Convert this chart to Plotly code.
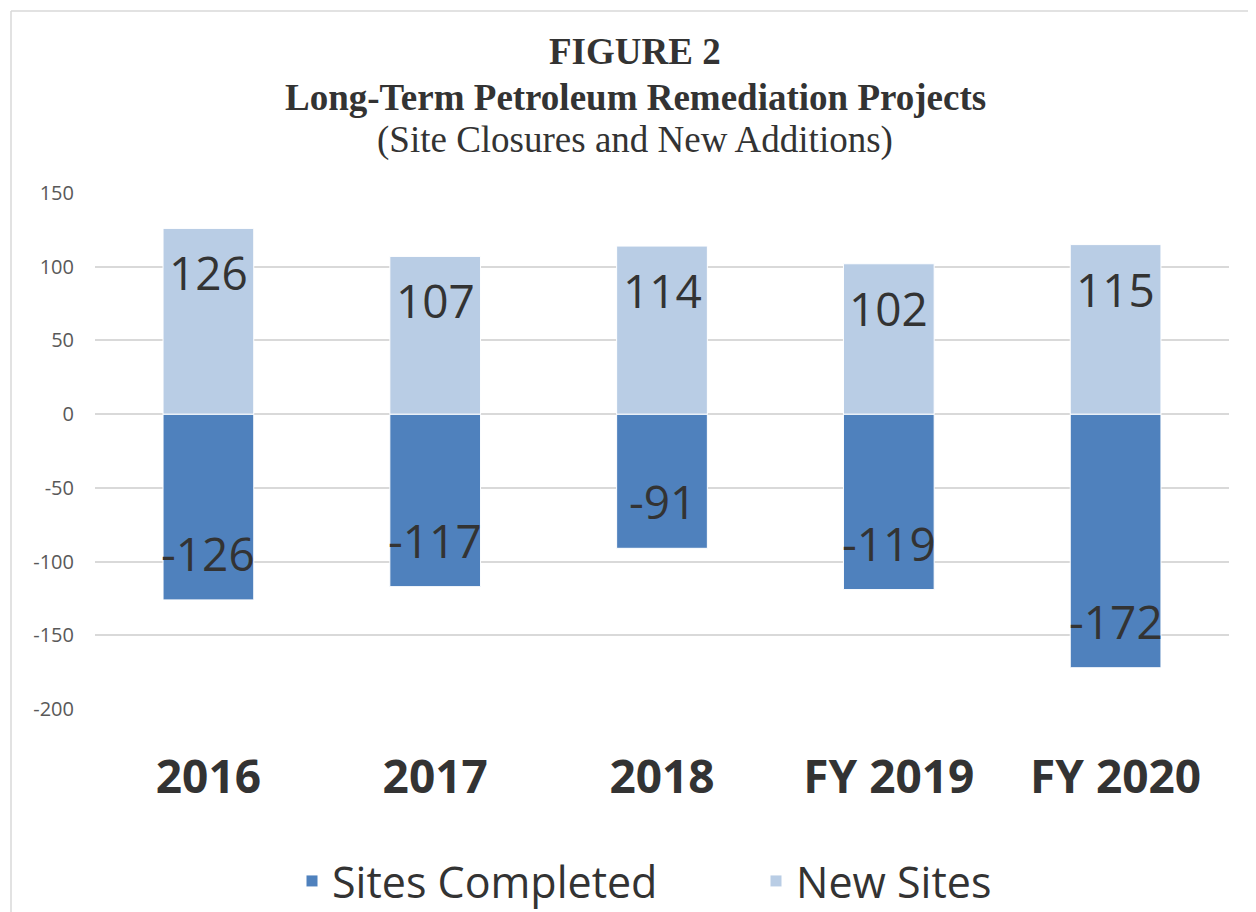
import plotly.graph_objects as go

years = ["2016", "2017", "2018", "FY 2019", "FY 2020"]
sites_completed = [-126, -117, -91, -119, -172]
new_sites = [126, 107, 114, 102, 115]
y_ticks = [150, 100, 50, 0, -50, -100, -150, -200]

title_lines = ["<b>FIGURE 2</b>",
               "<b>Long-Term Petroleum Remediation Projects</b>",
               "(Site Closures and New Additions)"]

dark_blue = "#4f81bd"
light_blue = "#b9cde5"
text_col = "#333333"

# page body has an 8px margin; figure is made taller than the window so the
# legend fits without pushing the margins (the bottom is simply cut off, as in the original)
W, H = 1240, 960
L, R, T, B = 87, 19, 185, 259
plot_w, plot_h = W - L - R, H - T - B


def px_x(x):
    return (x - L) / plot_w


def px_y(y):
    return 1 + (T - y) / plot_h


fig = go.Figure()
fig.add_trace(go.Bar(x=years, y=sites_completed, name="Sites Completed",
                     marker=dict(color=dark_blue, line=dict(color="white", width=1))))
fig.add_trace(go.Bar(x=years, y=new_sites, name="New Sites",
                     marker=dict(color=light_blue, line=dict(color="white", width=1))))

# value labels just inside the end of each bar, like the Excel original.
# category index is used for x: year-like strings would otherwise be read as numbers
for i, v in enumerate(sites_completed):
    fig.add_annotation(x=i, y=v, text=str(v), showarrow=False, yshift=47,
                       font=dict(family="Open Sans", size=46, color=text_col))
for i, v in enumerate(new_sites):
    fig.add_annotation(x=i, y=v, text=str(v), showarrow=False, yshift=-44,
                       font=dict(family="Open Sans", size=46, color=text_col))

# three title lines
for txt, yy in zip(title_lines, [44, 89, 132]):
    fig.add_annotation(xref="paper", yref="paper", x=px_x(627), y=px_y(yy),
                       xanchor="center", yanchor="middle", showarrow=False, text=txt,
                       font=dict(family="Liberation Serif, Times New Roman, serif",
                                 size=37, color=text_col))

# light frame of the chart area: only its left and top edges are inside the picture
frame = dict(color="#d9d9d9", width=1.5)
fig.add_shape(type="line", xref="paper", yref="paper", layer="below",
              x0=px_x(3), x1=px_x(3), y0=px_y(3), y1=px_y(H), line=frame)
fig.add_shape(type="line", xref="paper", yref="paper", layer="below",
              x0=px_x(3), x1=px_x(W), y0=px_y(3), y1=px_y(3), line=frame)

fig.update_layout(
    width=W, height=H,
    margin=dict(l=L, r=R, t=T, b=B),
    paper_bgcolor="white", plot_bgcolor="white",
    barmode="relative", bargap=0.6,
    legend=dict(orientation="h", x=px_x(284), xanchor="left", y=px_y(873), yanchor="middle",
                font=dict(family="Open Sans", size=43, color=text_col),
                entrywidth=419, traceorder="normal"),
    showlegend=True,
)
fig.update_xaxes(type="category", range=[-0.5, len(years) - 0.5],
                 showgrid=False, showline=False, ticks="", automargin=False,
                 tickfont=dict(family="Open Sans", size=46, color=text_col, weight="bold"),
                 ticklabelstandoff=37)
fig.update_yaxes(range=[-200, 150], tickvals=y_ticks, ticktext=[str(t) for t in y_ticks],
                 showgrid=True, gridcolor="#d9d9d9", gridwidth=1.5,
                 zeroline=True, zerolinecolor="#d9d9d9", zerolinewidth=1.5,
                 showline=False, ticks="", automargin=False,
                 tickfont=dict(family="Open Sans", size=20, color="#595959"),
                 ticklabelstandoff=20)

fig.write_html("out.html")
